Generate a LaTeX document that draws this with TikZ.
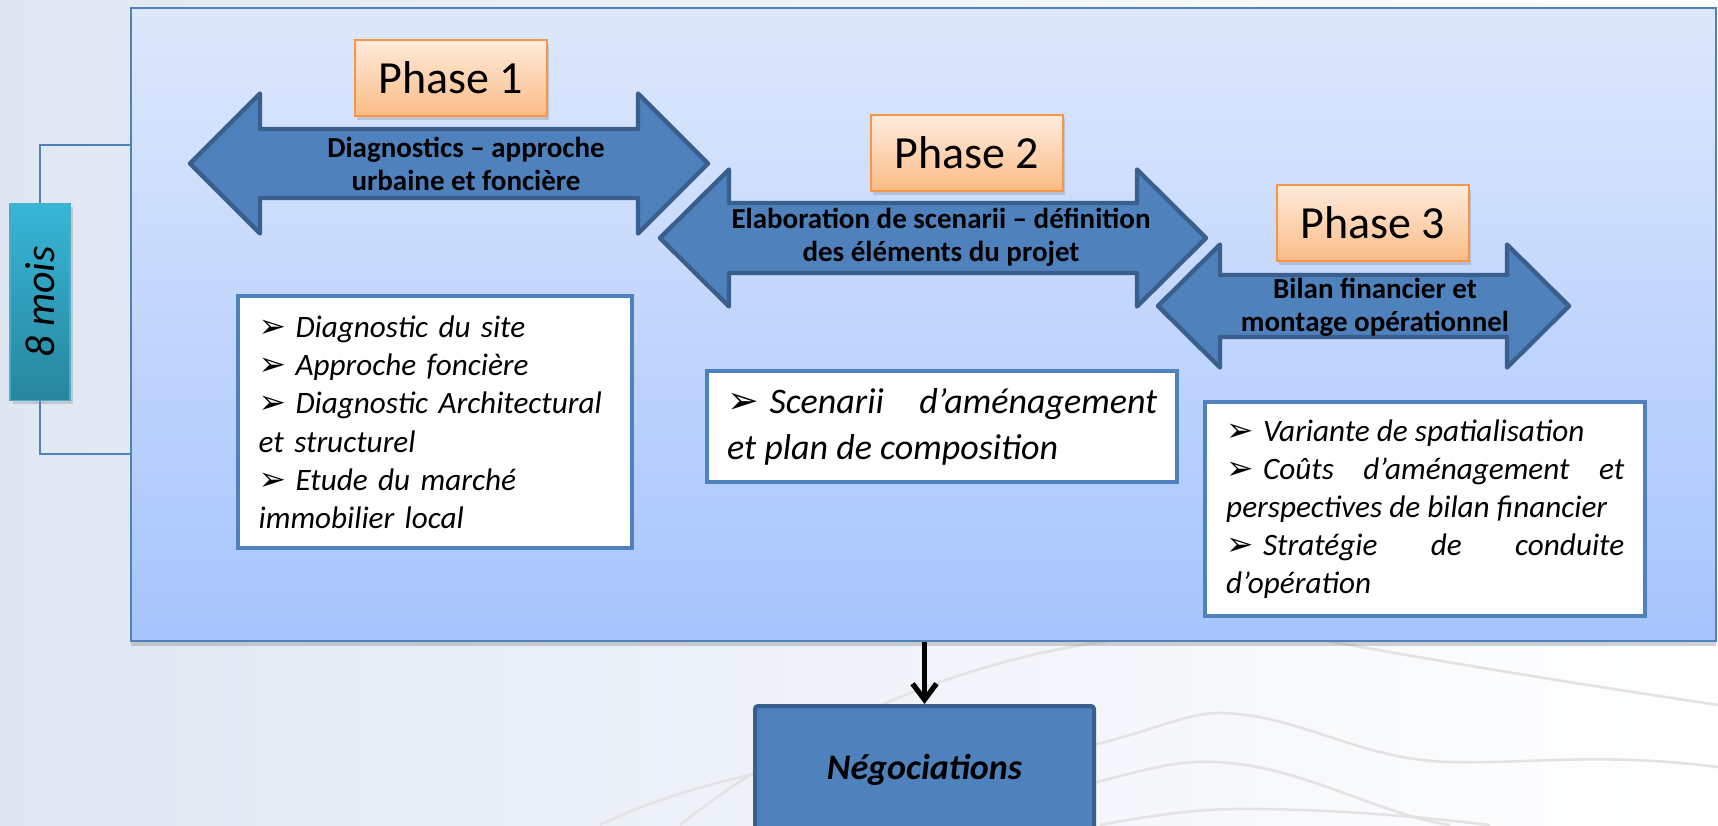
\documentclass[tikz,border=0pt]{standalone}
\usepackage{fontspec}
\setmainfont{Carlito}
\newfontfamily\dejavu{DejaVu Sans}
\usetikzlibrary{positioning,fit,shadows,arrows.meta}
\definecolor{fondGris}{RGB}{224,231,243}
\definecolor{cadreHaut}{RGB}{222,232,252}
\definecolor{cadreBas}{RGB}{166,196,253}
\definecolor{bleuBord}{RGB}{79,129,189}
\definecolor{bleuFonce}{RGB}{58,95,140}
\definecolor{orangeHaut}{RGB}{254,235,220}
\definecolor{orangeBas}{RGB}{251,188,134}
\definecolor{orangeBord}{RGB}{247,150,70}
\definecolor{turqClair}{RGB}{56,182,216}
\definecolor{turqFonce}{RGB}{38,134,156}
\definecolor{turqBord}{RGB}{75,172,198}
\newcommand{\puce}{{\dejavu\scalebox{1.05}{➢}}\kern0.3em}
\hyphenpenalty=10000
\exhyphenpenalty=10000
\tolerance=9999
\tikzset{
    cadre/.style={
        draw=bleuBord, line width=1pt,
        top color=cadreHaut, bottom color=cadreBas,
        inner sep=0pt,
        drop shadow={shadow xshift=0pt, shadow yshift=-2.5pt, opacity=0.35}
    },
    phasebox/.style={
        draw=orangeBord, line width=1pt,
        top color=orangeHaut, bottom color=orangeBas,
        minimum width=96pt, minimum height=38pt,
        font=\fontsize{23}{26}\selectfont,
        drop shadow={shadow xshift=1pt, shadow yshift=-2pt, opacity=0.3}
    },
    bande/.style={draw=bleuFonce, fill=bleuBord, line width=2.2pt, line join=round},
    bandetexte/.style={font=\bfseries\fontsize{14.5}{16.5}\selectfont, align=center, inner sep=0pt},
    listbox/.style={
        draw=bleuBord, fill=white, line width=2.2pt,
        anchor=north west, inner ysep=0pt,
        font=\itshape\fontsize{15.6}{19.1}\selectfont
    },
    duree/.style={
        draw=turqBord, line width=0.8pt,
        top color=turqClair, bottom color=turqFonce,
        minimum width=30pt, minimum height=98.5pt, inner sep=0pt,
        font=\itshape\fontsize{21}{24}\selectfont,
        drop shadow={shadow xshift=1.5pt, shadow yshift=-1.5pt, opacity=0.3}
    },
    nego/.style={
        draw=bleuFonce, fill=bleuBord, line width=2pt, rounded corners=1.5pt,
        minimum width=169.5pt, minimum height=64pt,
        font=\bfseries\itshape\fontsize{18}{21}\selectfont
    },
    crochet/.style={draw=bleuBord, line width=1pt},
    vague/.style={draw=black!11, line width=1.3pt},
    fleche/.style={-{Straight Barb[length=8pt,width=12pt]}, line width=2.6pt}
}

\begin{document}
\begin{tikzpicture}[x=0.5pt, y=-0.5pt]
    % Fond
    \shade[left color=fondGris, right color=white] (0,0) rectangle (1718,825);
    \useasboundingbox (0,0) rectangle (1718,825);
    \draw[vague] (680,825) .. controls (850,690) and (1100,600) .. (1350,645)
        .. controls (1500,672) and (1620,690) .. (1718,705);
    \draw[vague] (600,825) .. controls (700,775) and (900,735) .. (1094,745)
        .. controls (1160,728) and (1190,712) .. (1222,713)
        .. controls (1300,715) and (1360,760) .. (1450,762)
        .. controls (1530,764) and (1600,752) .. (1718,767);
    \draw[vague] (1094,783) .. controls (1150,768) and (1180,760) .. (1215,762)
        .. controls (1300,765) and (1380,815) .. (1450,825);
    \draw[vague] (1100,825) .. controls (1170,812) and (1210,808) .. (1260,809)
        .. controls (1350,810) and (1430,818) .. (1490,825);

    % Cadre principal
    \node[cadre, fit={(131,8) (1716,641)}] (cadre) {};

    % Durée
    \node[duree] (duree) at (40,302) {\rotatebox{90}{8 mois}};
    \coordinate (crochetHaut) at (131,145);
    \coordinate (crochetBas) at (131,454);
    \draw[crochet] (crochetHaut) -| (duree.north);
    \draw[crochet] (crochetBas) -| (duree.south);

    % Flèches des phases
    \draw[bande] (190,163.5) -- (260,93.5) -- (260,129) -- (638,129) -- (638,93.5) -- (708,163.5)
        -- (638,233.5) -- (638,198) -- (260,198) -- (260,233.5) -- cycle;
    \draw[bande] (660,238) -- (729,169.5) -- (729,203) -- (1137,203) -- (1137,169.5) -- (1206,238)
        -- (1137,306.5) -- (1137,273) -- (729,273) -- (729,306.5) -- cycle;
    \draw[bande] (1158,306) -- (1220,244.5) -- (1220,275) -- (1507,275) -- (1507,244.5) -- (1569,306)
        -- (1507,367.5) -- (1507,337) -- (1220,337) -- (1220,367.5) -- cycle;
    \node[bandetexte] (texteA) at (466,164) {Diagnostics – approche\\urbaine et foncière};
    \node[bandetexte] (texteB) at (941,237) {Elaboration de scenarii – définition\\des éléments du projet};
    \node[bandetexte] (texteC) at (1375,307) {Bilan financier et\\montage opérationnel};

    % Titres
    \node[phasebox] (phaseA) at (450.5,77.5) {Phase 1};
    \node[phasebox] (phaseB) at (967,153) {Phase 2};
    \node[phasebox] (phaseC) at (1373,223) {Phase 3};

    % Contenus
    \node[listbox, align=left, text width=176.5pt, inner xsep=10.25pt, minimum height=126pt] (listeA) at (236,294)
        {\puce Diagnostic du site\\\puce Approche foncière\\\puce Diagnostic Architectural\\et structurel\\\puce Etude du marché\\immobilier local};
    \node[listbox, align=justify, text width=215pt, inner xsep=10pt, minimum height=55.5pt,
        font=\itshape\fontsize{18}{23}\selectfont] (listeB) at (705,369)
        {\puce Scenarii d’aménagement\linebreak et plan de composition};
    \node[listbox, align=justify, text width=199pt, inner xsep=10.5pt, minimum height=107pt] (listeC) at (1203,400)
        {\puce Variante de spatialisation\\\puce Coûts d’aménagement et\linebreak perspectives de bilan financier\\\puce Stratégie de conduite\linebreak d’opération};

    % Suite
    \node[nego] (nego) at (924.5,770) {Négociations};
    \draw[fleche] (cadre.south -| nego.north) -- (nego.north);
\end{tikzpicture}
\end{document}
